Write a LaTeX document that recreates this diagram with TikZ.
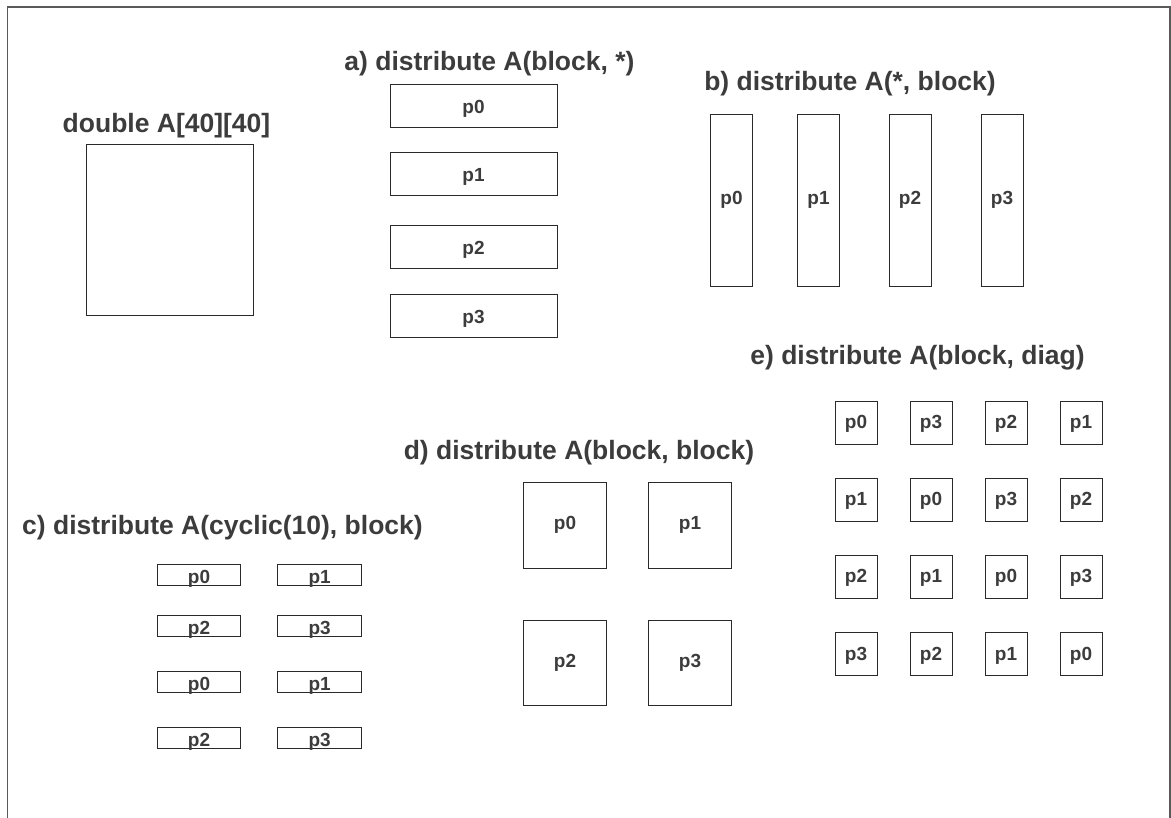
\documentclass[tikz,border=0pt]{standalone}
\usepackage{fontspec}
\setmainfont{Liberation Sans}
\definecolor{ink}{HTML}{3C3C3C}
\definecolor{edge}{HTML}{2A2A2A}
\definecolor{framegray}{HTML}{5A5A5A}
\begin{document}
\begin{tikzpicture}[x=1pt,y=-1pt,
  title/.style={font=\bfseries\fontsize{26.5}{30}\selectfont, text=ink, anchor=base, inner sep=0pt},
  cell/.style={draw=edge, line width=0.9pt, inner sep=0pt, text=ink,
               font=\bfseries\fontsize{19}{22}\selectfont, text depth=0pt},
  rowbox/.style={cell, minimum width=167pt, minimum height=43pt, text height=15pt},
  colbox/.style={cell, minimum width=42pt, minimum height=172pt, text height=10pt},
  stripbox/.style={cell, minimum width=84pt, minimum height=21pt, text height=17pt},
  quadbox/.style={cell, minimum width=83.5pt, minimum height=85.6pt, text height=8pt},
  diagbox/.style={cell, minimum width=42pt, minimum height=43pt, text height=11.6pt}]
\useasboundingbox (0,0) rectangle (1171,818);

% page frame (open at the bottom)
\draw[framegray, line width=1.5pt] (7.5,818) -- (7.5,7) -- (1170,7) -- (1170,818);

% the whole array
\node[title] (tA) at (166.5,133) {double A[40][40]};
\node[draw=edge, line width=0.9pt, minimum width=166.6pt, minimum height=171.4pt, inner sep=0pt] (whole) at (170,230) {};

% a) row blocks
\node[title] (ta) at (489.5,71) {a) distribute A(block, *)};
\node[rowbox] (a0) at (473.5,105.7) {p0};
\node[rowbox] (a1) at (473.5,174.3) {p1};
\node[rowbox] (a2) at (473.5,247) {p2};
\node[rowbox] (a3) at (473.5,315.7) {p3};

% b) column blocks
\node[title] (tb) at (850,91) {b) distribute A(*, block)};
\node[colbox] (b0) at (731.5,200) {p0};
\node[colbox] (b1) at (818.5,200) {p1};
\node[colbox] (b2) at (910,200) {p2};
\node[colbox] (b3) at (1002,200) {p3};

% c) cyclic rows
\node[title] (tc) at (222.5,534.5) {c) distribute A(cyclic(10), block)};
\node[stripbox, minimum width=83.4pt] (c00) at (199,574.7) {p0};
\node[stripbox] (c01) at (319.7,574.7) {p1};
\node[stripbox, minimum width=83.4pt] (c10) at (199,626.2) {p2};
\node[stripbox] (c11) at (319.7,626.2) {p3};
\node[stripbox, minimum width=83.4pt] (c20) at (199,682) {p0};
\node[stripbox] (c21) at (319.7,682) {p1};
\node[stripbox, minimum width=83.4pt] (c30) at (199,737.5) {p2};
\node[stripbox] (c31) at (319.7,737.5) {p3};

% d) 2x2 blocks
\node[title] (td) at (579,459.5) {d) distribute A(block, block)};
\node[quadbox] (d00) at (565,525.5) {p0};
\node[quadbox] (d01) at (690,525.5) {p1};
\node[quadbox] (d10) at (565,663) {p2};
\node[quadbox] (d11) at (690,663) {p3};

% e) diagonal blocks
\node[title] (te) at (917.5,364.5) {e) distribute A(block, diag)};
\foreach \row/\yy/\la/\lb/\lc/\ld in {0/422.5/0/3/2/1, 1/499.8/1/0/3/2, 2/576.8/2/1/0/3, 3/654.3/3/2/1/0}{
  \node[diagbox] (e\row0) at (856,\yy) {p\la};
  \node[diagbox] (e\row1) at (931,\yy) {p\lb};
  \node[diagbox] (e\row2) at (1006,\yy) {p\lc};
  \node[diagbox] (e\row3) at (1081,\yy) {p\ld};
}
\end{tikzpicture}
\end{document}
